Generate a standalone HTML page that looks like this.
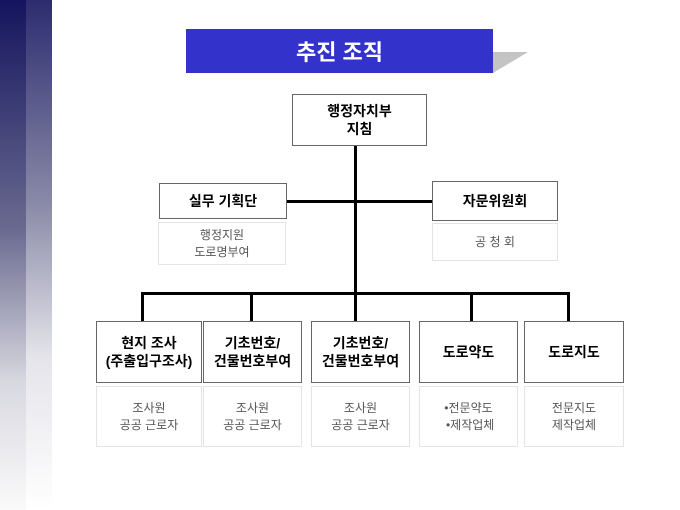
<!DOCTYPE html>
<html><head><meta charset="utf-8"><style>
body{margin:0;width:680px;height:510px;background:#fff;position:relative;overflow:hidden;font-family:"Liberation Sans","Noto Sans CJK KR",sans-serif}
.a{position:absolute}
.b{position:absolute;border:1px solid #666;background:#fff;box-sizing:border-box;display:flex;align-items:center;justify-content:center;text-align:center;font-weight:bold;font-size:14px;line-height:18px;color:#000}
.s{position:absolute;border:1px solid #e4e4e4;box-sizing:border-box;display:flex;align-items:center;justify-content:center;text-align:center;font-size:12px;line-height:17px;color:#555}
.l{position:absolute;background:#000}
</style></head><body>
<div class="a" style="left:0;top:0;width:26px;height:510px;background:linear-gradient(#14145e,#6a6a90 45%,#d8d8e0 75%,#fafafa)"></div>
<div class="a" style="left:26px;top:0;width:26px;height:510px;background:linear-gradient(#2c2c70,#8a8aa8 40%,#e4e4ea 70%,#fff)"></div>
<svg class="a" style="left:490px;top:50px" width="42" height="24"><polygon points="3,2 38,2 3,23" fill="#c4c4c4"/></svg>
<div class="a" style="left:186px;top:29px;width:307px;height:44px;background:#3333cc;color:#fff;font-weight:bold;font-size:22px;display:flex;align-items:center;justify-content:center">추진 조직</div>
<div class="l" style="left:354px;top:146px;width:3px;height:148px"></div>
<div class="l" style="left:287px;top:200px;width:145px;height:3px"></div>
<div class="l" style="left:141px;top:292px;width:429px;height:3px"></div>
<div class="l" style="left:141px;top:292px;width:3px;height:29px"></div>
<div class="l" style="left:250px;top:292px;width:3px;height:29px"></div>
<div class="l" style="left:354px;top:292px;width:3px;height:29px"></div>
<div class="l" style="left:470px;top:292px;width:3px;height:29px"></div>
<div class="l" style="left:567px;top:292px;width:3px;height:29px"></div>
<div class="b" style="left:292px;top:94px;width:135px;height:52px">행정자치부<br>지침</div>
<div class="b" style="left:159px;top:183px;width:128px;height:36px">실무 기획단</div>
<div class="s" style="left:158px;top:222px;width:128px;height:43px">행정지원<br>도로명부여</div>
<div class="b" style="left:432px;top:181px;width:126px;height:40px">자문위원회</div>
<div class="s" style="left:432px;top:223px;width:126px;height:38px">공 청 회</div>
<div class="b" style="left:96px;top:321px;width:106px;height:62px">현지 조사<br>(주출입구조사)</div>
<div class="b" style="left:203px;top:321px;width:99px;height:62px">기초번호/<br>건물번호부여</div>
<div class="b" style="left:311px;top:321px;width:99px;height:62px">기초번호/<br>건물번호부여</div>
<div class="b" style="left:419px;top:321px;width:99px;height:62px">도로약도</div>
<div class="b" style="left:524px;top:321px;width:100px;height:62px">도로지도</div>
<div class="s" style="left:96px;top:386px;width:106px;height:61px">조사원<br>공공 근로자</div>
<div class="s" style="left:203px;top:386px;width:99px;height:61px">조사원<br>공공 근로자</div>
<div class="s" style="left:311px;top:386px;width:99px;height:61px">조사원<br>공공 근로자</div>
<div class="s" style="left:419px;top:386px;width:99px;height:61px">•전문약도<br>&nbsp;•제작업체</div>
<div class="s" style="left:524px;top:386px;width:100px;height:61px">전문지도<br>제작업체</div>
</body></html>
